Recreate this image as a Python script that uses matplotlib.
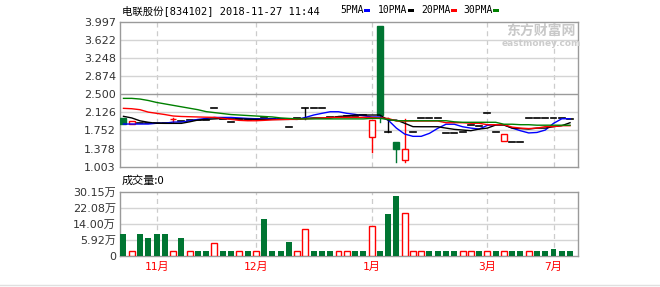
import numpy as np
import matplotlib.pyplot as plt
from matplotlib.patches import Rectangle

plt.rcParams['font.family'] = ['DejaVu Sans', 'Noto Sans CJK SC']

# --- data (55 trading days) ---
opens = [2.01, 1.88, 1.90, 1.90, 1.90, 1.90, 1.978, 1.95, 1.97, 1.96,
         1.97, 2.208, 1.99, 1.925, 1.98, 1.97, 1.98, 2.02, 1.99, 1.99,
         1.816, 2.00, 2.208, 2.208, 2.208, 2.03, 2.03, 2.05, 2.05, 2.07,
         1.622, 3.906, 1.72, 1.506, 1.135, 1.72, 2.00, 2.00, 2.00, 1.69,
         1.69, 1.72, 1.87, 1.85, 2.105, 1.713, 1.527, 1.51, 1.51, 2.00,
         2.00, 2.00, 2.00, 2.00, 1.98]
closes = [1.88, 1.95, 1.90, 1.90, 1.90, 1.90, 1.985, 1.95, 1.97, 1.96,
          1.97, 2.208, 1.99, 1.925, 1.98, 1.97, 1.98, 2.02, 1.99, 1.99,
          1.816, 2.00, 2.208, 2.208, 2.208, 2.03, 2.03, 2.05, 2.05, 2.07,
          1.964, 2.07, 1.72, 1.368, 1.362, 1.72, 2.00, 2.00, 2.00, 1.69,
          1.69, 1.72, 1.87, 1.85, 2.105, 1.713, 1.671, 1.51, 1.51, 2.00,
          2.00, 2.00, 2.00, 2.00, 1.98]
highs = [2.01, 1.95, 1.90, 1.90, 1.90, 1.90, 2.00, 1.95, 1.97, 1.96,
         1.97, 2.208, 1.99, 1.925, 1.98, 1.97, 1.98, 2.02, 1.99, 1.99,
         1.816, 2.00, 2.208, 2.208, 2.208, 2.03, 2.03, 2.05, 2.05, 2.07,
         1.964, 3.906, 2.00, 1.506, 1.981, 1.72, 2.00, 2.00, 2.00, 1.69,
         1.69, 1.72, 1.87, 1.85, 2.105, 1.713, 1.671, 1.51, 1.51, 2.00,
         2.00, 2.00, 2.00, 2.00, 1.98]
lows = [1.88, 1.88, 1.90, 1.90, 1.90, 1.90, 1.93, 1.95, 1.97, 1.96,
        1.97, 2.208, 1.99, 1.925, 1.98, 1.97, 1.98, 2.02, 1.99, 1.99,
        1.816, 2.00, 1.99, 2.208, 2.208, 2.03, 2.03, 2.05, 2.05, 2.07,
        1.312, 1.919, 1.72, 1.106, 1.106, 1.72, 2.00, 2.00, 2.00, 1.69,
        1.69, 1.72, 1.87, 1.85, 2.105, 1.713, 1.527, 1.51, 1.51, 2.00,
        2.00, 2.00, 2.00, 2.00, 1.98]

ma5 = [1.884, 1.884, 1.884, 1.884, 1.90, 1.90, 1.925, 1.925, 1.95, 1.98,
       2.00, 2.02, 2.02, 2.02, 2.01, 2.00, 1.993, 1.993, 1.993, 1.99,
       1.985, 1.98, 2.02, 2.07, 2.105, 2.138, 2.138, 2.105, 2.084, 2.055,
       2.03, 2.03, 1.966, 1.80, 1.677, 1.63, 1.63, 1.692, 1.795, 1.88,
       1.88, 1.828, 1.80, 1.78, 1.857, 1.87, 1.87, 1.80, 1.746, 1.70,
       1.71, 1.76, 1.898, 1.993, 1.993]
ma10 = [2.043, 2.01, 1.95, 1.92, 1.90, 1.898, 1.898, 1.898, 1.93, 1.966,
        1.98, 1.99, 2.00, 1.99, 1.99, 1.985, 1.98, 1.98, 1.98, 1.98,
        1.98, 1.99, 2.00, 2.01, 2.01, 2.01, 2.04, 2.05, 2.07, 2.07,
        2.07, 2.07, 1.966, 1.966, 1.90, 1.83, 1.828, 1.828, 1.828, 1.80,
        1.774, 1.76, 1.746, 1.78, 1.80, 1.863, 1.863, 1.80, 1.79, 1.78,
        1.80, 1.80, 1.83, 1.85, 1.911]
ma20 = [2.208, 2.20, 2.18, 2.13, 2.105, 2.08, 2.05, 2.04, 2.035, 2.03,
        2.025, 2.022, 2.00, 1.98, 1.96, 1.952, 1.952, 1.96, 1.97, 1.975,
        1.98, 1.98, 1.99, 2.00, 2.01, 2.02, 2.022, 2.022, 2.022, 2.022,
        2.02, 2.01, 2.00, 1.946, 1.946, 1.946, 1.946, 1.946, 1.946, 1.911,
        1.911, 1.911, 1.90, 1.90, 1.87, 1.87, 1.87, 1.82, 1.80, 1.79,
        1.80, 1.83, 1.83, 1.85, 1.85]
ma30 = [2.414, 2.414, 2.40, 2.37, 2.33, 2.30, 2.27, 2.24, 2.21, 2.18,
        2.14, 2.12, 2.10, 2.08, 2.07, 2.06, 2.05, 2.04, 2.03, 2.01,
        2.00, 1.99, 1.99, 1.99, 1.99, 1.99, 1.99, 1.99, 1.99, 1.99,
        2.00, 2.00, 1.98, 1.952, 1.952, 1.952, 1.952, 1.952, 1.952, 1.952,
        1.93, 1.92, 1.92, 1.92, 1.92, 1.92, 1.88, 1.88, 1.87, 1.87,
        1.86, 1.86, 1.86, 1.86, 1.86]

# volume in 万, direction u/d
volume = [9.05, 0.3, 9.05, 6.9, 9.05, 9.05, 0.3, 6.9, 0.3, 0.3,
          0.3, 4.4, 0.3, 0.3, 0.3, 0.3, 0.3, 16.4, 0.3, 0.3,
          4.9, 0.3, 11.3, 0.3, 0.3, 0.3, 0.3, 0.3, 0.3, 0.3,
          12.9, 0.3, 18.9, 28.0, 19.4, 0.3, 0.3, 0.3, 0.3, 0.3,
          0.3, 0.3, 0.3, 0.3, 0.3, 0.3, 0.3, 0.3, 0.3, 0.3,
          0.3, 0.3, 1.4, 0.3, 0.3]
vol_dir = ['d', 'u', 'd', 'd', 'd', 'd', 'u', 'd', 'u', 'd',
           'd', 'u', 'd', 'd', 'u', 'd', 'u', 'd', 'd', 'd',
           'd', 'u', 'u', 'd', 'd', 'd', 'u', 'u', 'd', 'd',
           'u', 'd', 'd', 'd', 'u', 'u', 'u', 'd', 'd', 'd',
           'd', 'u', 'u', 'd', 'u', 'd', 'u', 'd', 'd', 'u',
           'd', 'd', 'd', 'd', 'd']

price_ticks = [1.003, 1.378, 1.752, 2.126, 2.500, 2.874, 3.248, 3.622, 3.997]
vol_ticks = [-2.16, 5.92, 14.00, 22.08, 30.15]
vol_labels = ['0', '5.92万', '14.00万', '22.08万', '30.15万']
month_pos = [4, 16, 30, 44, 52]
month_labels = ['11月', '12月', '1月', '3月', '7月']

RED = '#ff0000'
GREEN = '#007532'
GRID = '#d4d4d4'
BORDER = '#9a9a9a'
W = 0.72

fig = plt.figure(figsize=(6.6, 2.87), dpi=100)
ax = fig.add_axes([120/660, 1-166.7/287, 458/660, 145/287])
axv = fig.add_axes([120/660, 1-256/287, 458/660, 64.3/287])

n = len(closes)
x = np.arange(n)

for a in (ax, axv):
    a.set_xlim(-0.42, 54.96)
    for s in a.spines.values():
        s.set_color(BORDER)
        s.set_linewidth(1)
    a.tick_params(length=0, labelsize=8, colors='#333333', pad=3)
    a.set_xticks([])
    for m in month_pos:
        a.axvline(m, color='#cccccc', lw=0.9, ls=(0, (4, 3)), zorder=0)

# price panel
ax.set_ylim(1.003, 3.997)
ax.set_yticks(price_ticks)
ax.set_yticklabels(['%.3f' % t for t in price_ticks])
for t in price_ticks[1:-1]:
    ax.axhline(t, color=BORDER if t == 2.5 else GRID, lw=1, zorder=0)

for i in range(n):
    o, c, h, l = opens[i], closes[i], highs[i], lows[i]
    if c > o:
        col = RED
    elif c < o:
        col = GREEN
    else:
        col = 'black'
    top, bot = max(o, c), min(o, c)
    if h > top:
        ax.plot([i, i], [top, h], color=col, lw=1, zorder=3)
    if l < bot:
        ax.plot([i, i], [l, bot], color=col, lw=1, zorder=3)
    if c == o:
        ax.plot([i - W/2, i + W/2], [c, c], color=col, lw=1.2, zorder=4)
    else:
        fc = 'white' if c > o else GREEN
        ax.add_patch(Rectangle((i - W/2, bot), W, top - bot, facecolor=fc,
                               edgecolor=col, lw=1, zorder=4))

ax.plot(x, ma5, color='#0000ff', lw=1, zorder=5)
ax.plot(x, ma10, color='black', lw=1, zorder=5)
ax.plot(x, ma20, color=RED, lw=1, zorder=5)
ax.plot(x, ma30, color='green', lw=1, zorder=5)

# volume panel
axv.set_ylim(-2.16, 30.15)
axv.set_yticks(vol_ticks)
axv.set_yticklabels(vol_labels)
for t in vol_ticks[1:-1]:
    axv.axhline(t, color=GRID, lw=1, zorder=0)
for i in range(n):
    hgt = volume[i] + 2.16
    if vol_dir[i] == 'u':
        axv.add_patch(Rectangle((i - W/2, -2.16), W, hgt, facecolor='white',
                                edgecolor=RED, lw=1, zorder=3))
    else:
        axv.add_patch(Rectangle((i - W/2, -2.16), W, hgt, facecolor=GREEN,
                                edgecolor=GREEN, lw=0, zorder=3))

for m, lab in zip(month_pos, month_labels):
    axv.text(m, -5.0, lab, color=RED, fontsize=8, ha='center', va='top',
             family=['DejaVu Sans Mono', 'Noto Sans CJK SC'])

# texts
fig.text(122/660, 1-11/287, '电联股份[834102] 2018-11-27 11:44', fontsize=7.5,
         va='center', ha='left', family=['DejaVu Sans Mono', 'Noto Sans CJK SC'])
leg = [('5PMA', '#0000ff', 340), ('10PMA', 'black', 378),
       ('20PMA', RED, 421), ('30PMA', 'green', 463)]
for lab, col, px in leg:
    t = fig.text(px/660, 1-10/287, lab, fontsize=7, va='center', ha='left',
                 family='DejaVu Sans Mono')
    wpx = len(lab) * 5.85
    fig.patches.append(Rectangle(((px + wpx + 1)/660, 1-12/287), 6/660, 3/287,
                                 facecolor=col, edgecolor='none',
                                 transform=fig.transFigure, figure=fig))
fig.text(122/660, 1-181/287, '成交量:0', fontsize=8, va='center', ha='left',
         family=['Noto Sans CJK SC', 'DejaVu Sans'])

fig.text(541/660, 1-31/287, '东方财富网', fontsize=10, fontweight='bold',
         color='#c8c8c8', ha='center', va='center', family='Noto Sans CJK SC')
fig.text(541/660, 1-43/287, 'eastmoney.com', fontsize=6.5, fontweight='bold',
         color='#cccccc', ha='center', va='center')

fig.add_artist(plt.Line2D([0, 1], [1-285/287, 1-285/287], color='#e0e0e0',
                          lw=1, transform=fig.transFigure))

fig.savefig('out.png', dpi=100, facecolor='white')
